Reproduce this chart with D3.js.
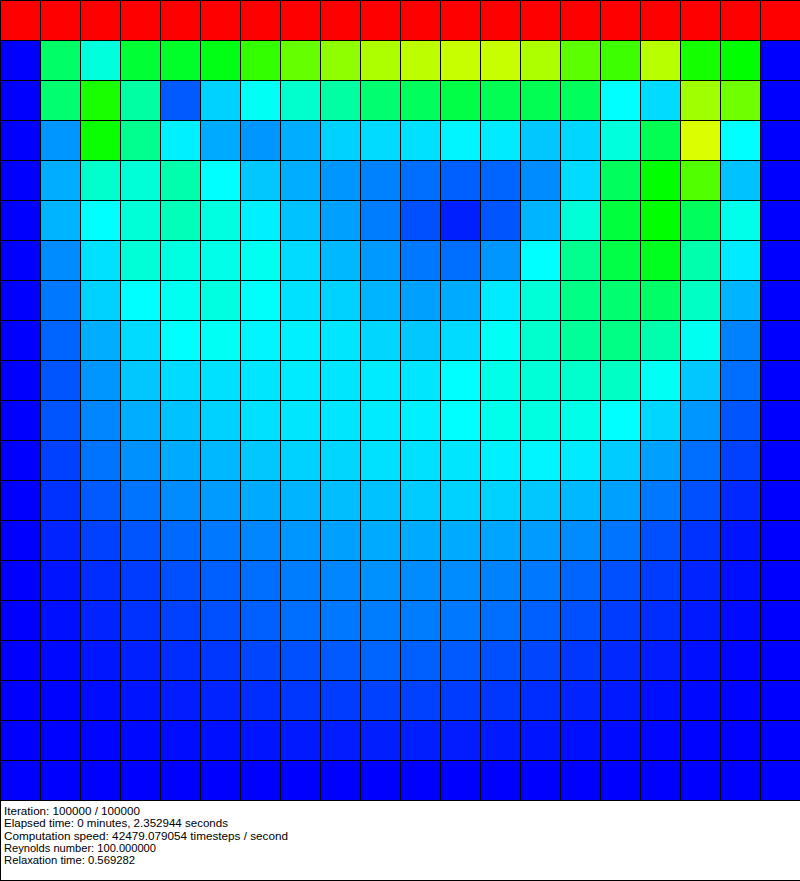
<!DOCTYPE html>
<html>
<head>
<meta charset="utf-8">
<script src="https://cdn.jsdelivr.net/npm/d3@7"></script>
<style>
  body { margin: 0; background: #fff; }
  svg { display: block; }
</style>
</head>
<body>
<svg id="lbm_svg"></svg>
<script>
var svg_width = 800;
var svg_height = 881;
var grid_size = 800;

// speed magnitude per cell, 0..100 (top row is the moving lid)
var speed = [
  [100,100,100,100,100,100,100,100,100,100,100,100,100,100,100,100,100,100,100,100],
  [0,40,28.4,45,46,48,55,60,64,67,68.6,69.6,69.6,67,59,56,68,52,50,0],
  [0,39,52.5,34,8.8,20.6,26,30,34,39,41,43,42,42,41,25,21.6,65.7,61,0],
  [0,14.7,51,36,23.5,16.7,14.7,17,20.6,21.6,22,24,23,19.6,21,28.4,42,71.6,25,0],
  [0,17,30,29,33,25,19.6,17,14.7,12.7,10.8,9.3,9.8,13.7,21.6,41,50,58,19,0],
  [0,17.6,25,29,32,28,23.5,19,15.7,12.3,7.8,3,8.3,17.6,29,44,50,41,27,0],
  [0,13.7,22,29,28,27.5,26.5,21.6,18,15,11.8,10.8,14.7,25,36,43,47,33,23,0],
  [0,11.8,20.6,25,26.5,28,25.5,22,20.6,17.6,15.7,16.7,23,29,37,39,40,31,17.6,0],
  [0,9.8,17,21.6,25,26,24,23.5,22.5,21,19.6,21.6,26,30,35,37,33,26.5,12.7,0],
  [0,8.3,14.7,19.6,21.6,22,22.5,23,22.5,23,22.5,25,27.5,29,30,31,26,19.6,10.8,0],
  [0,8.3,13.2,17,19,20.6,22,22.5,22.5,23,23.5,25,27,28,27.5,25,21,14.7,8.3,0],
  [0,6.4,11.3,14.2,16.7,18,19.6,20.6,21,22,22,22.5,23.5,24,23,20,15.7,10.8,6.4,0],
  [0,4.9,8.8,11.3,13.7,15.2,16.7,17.6,18.6,19,20,20.6,20.6,19.6,18,15.7,11.8,7.8,3.9,0],
  [0,3.4,6.4,8.3,10.3,11.8,13.2,14.7,15.7,16.7,16.7,16.7,16.2,15.2,13.7,11.3,7.8,4.9,2,0],
  [0,2,4.4,5.9,7.8,9.3,10.8,12.3,13.2,14.2,13.7,13.7,12.7,11.8,9.8,7.8,5.9,3.4,1.5,0],
  [0,1.5,3.4,4.9,6.4,7.8,9.3,10.8,11.8,12.3,12.3,11.8,10.8,9.3,7.8,5.9,4.4,2.5,1,0],
  [0,0.8,2.2,3.1,4.4,5.4,6.9,7.8,8.8,9.8,9.3,8.8,7.8,6.9,5.4,3.9,2.7,1.5,0.5,0],
  [0,0.4,1.2,2,2.7,3.4,4.4,5.4,5.9,6.4,6.4,5.9,5.4,4.4,3.4,2.5,1.5,0.8,0.3,0],
  [0,0.2,0.5,0.8,1.2,1.5,2,2.5,2.7,2.9,2.9,2.7,2.5,2,1.5,1,0.6,0.3,0.1,0],
  [0,0,0,0,0,0,0,0,0,0,0,0,0,0,0,0,0,0,0,0]
];

var color_stops = [0, 25, 50, 75, 100];
var color_range = ["#0000ff", "#00ffff", "#00ff00", "#ffff00", "#ff0000"];

var info_lines = [
  "Iteration: 100000 / 100000",
  "Elapsed time: 0 minutes, 2.352944 seconds",
  "Computation speed: 42479.079054 timesteps / second",
  "Reynolds number: 100.000000",
  "Relaxation time: 0.569282"
];
var info_widths = [136, 224, 284, 152, 131];

document.addEventListener('DOMContentLoaded', function() {
    var svg = d3.select("#lbm_svg")
        .attr('width', svg_width)
        .attr('height', svg_height)
        .attr('shape-rendering', 'crispEdges');

    var n = speed.length;
    var x = d3.scaleBand().domain(d3.range(n)).range([0, grid_size]);
    var y = d3.scaleBand().domain(d3.range(n)).range([0, grid_size]);
    var color = d3.scaleLinear().domain(color_stops).range(color_range);

    // cells
    var cells = [];
    speed.forEach(function(row, j) {
        row.forEach(function(v, i) {
            cells.push({i: i, j: j, v: v});
        });
    });

    svg.append('g').selectAll('rect')
        .data(cells)
        .enter().append('rect')
        .attr('x', function(d) { return x(d.i); })
        .attr('y', function(d) { return y(d.j); })
        .attr('width', x.bandwidth())
        .attr('height', y.bandwidth())
        .attr('fill', function(d) { return color(d.v); });

    // grid lines (left / top edge of each cell)
    var lines = svg.append('g').attr('stroke', '#000').attr('stroke-width', 1);
    d3.range(n).forEach(function(i) {
        lines.append('line')
            .attr('x1', x(i) + 0.5).attr('x2', x(i) + 0.5)
            .attr('y1', 0).attr('y2', i == 0 ? svg_height : grid_size);
    });
    d3.range(n + 1).forEach(function(j) {
        var yy = j < n ? y(j) : grid_size;
        lines.append('line')
            .attr('x1', 0).attr('x2', svg_width)
            .attr('y1', yy + 0.5).attr('y2', yy + 0.5);
    });
    // bottom border of the text box
    lines.append('line')
        .attr('x1', 0).attr('x2', svg_width)
        .attr('y1', svg_height - 0.5).attr('y2', svg_height - 0.5);

    // info text
    svg.append('g').selectAll('text')
        .data(info_lines)
        .enter().append('text')
        .attr('x', 4)
        .attr('y', function(d, k) { return 815 + k * 12.33; })
        .attr('textLength', function(d, k) { return info_widths[k]; })
        .attr('lengthAdjust', 'spacingAndGlyphs')
        .attr('font-family', 'Liberation Sans, sans-serif')
        .attr('font-size', '11px')
        .attr('fill', '#000')
        .text(function(d) { return d; });
});
</script>
</body>
</html>
